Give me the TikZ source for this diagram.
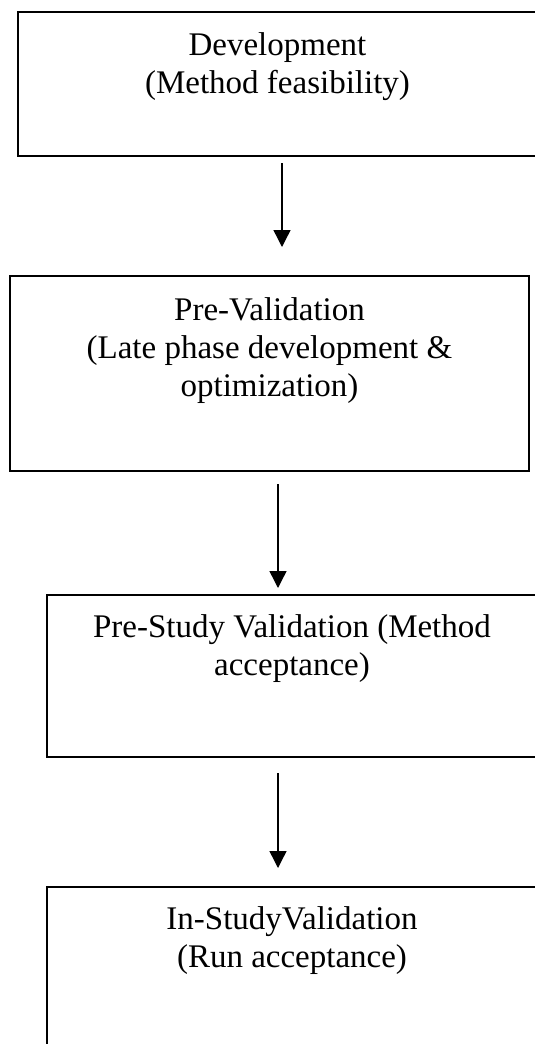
\documentclass[tikz,border=0pt]{standalone}
\usepackage{fontspec}
\setmainfont{Liberation Serif}
\usetikzlibrary{arrows.meta, positioning}

\begin{document}
\begin{tikzpicture}[x=1pt, y=-1pt]
	\tikzset {>={Triangle[length=17pt,width=17pt]}, stage/.style={draw, line width=1.6pt, inner sep=0pt}, 				stagetext/.style={align=center, inner sep=0pt, font=\fontsize{33}{38}\selectfont}, flow/.style={->, line width=1.4pt} }
	\useasboundingbox (0,0) rectangle (535,1044);
	\clip (0,0) rectangle (535,1044);

	\node[stage, minimum width=519pt, minimum height=144pt] (dev) at (277.5,84) {};
	\node[stagetext, below=21pt of dev.north] (devtext) {Development\\(Method feasibility)};

	\node[stage, minimum width=519pt, minimum height=195pt] (preval) at (269.5,373.5) {};
	\node[stagetext, below=22pt of preval.north] (prevaltext) {Pre-Validation\\(Late phase development \&\\optimization)};

	\node[stage, minimum width=490pt, minimum height=162pt] (prestudy) at (292,676) {};
	\node[stagetext, below=20pt of prestudy.north] (prestudytext) {Pre-Study Validation (Method\\acceptance)};

	\node[stage, minimum width=490pt, minimum height=173pt] (instudy) at (292,973.5) {};
	\node[stagetext, below=20pt of instudy.north] (instudytext) {In-StudyValidation\\(Run acceptance)};

	\coordinate (a1) at (282,163);
	\coordinate (b1) at (282,247);
	\coordinate (a2) at (278,484);
	\coordinate (b2) at (278,588);
	\coordinate (a3) at (278,773);
	\coordinate (b3) at (278,868);

	\draw[flow] (a1) -- (b1);
	\draw[flow] (a2) -- (b2);
	\draw[flow] (a3) -- (b3);
\end{tikzpicture}
\end{document}
